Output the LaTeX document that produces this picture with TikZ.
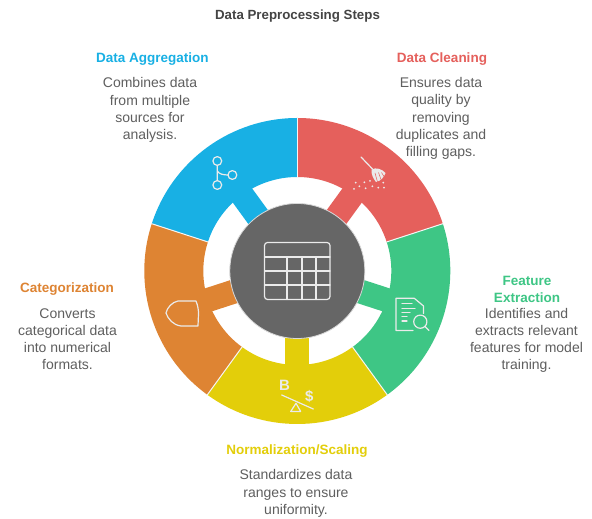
\documentclass[tikz,border=0pt]{standalone}
\usepackage{fontspec}
\setmainfont{Liberation Sans}
\definecolor{cblue}{HTML}{18B0E4}
\definecolor{cred}{HTML}{E5605C}
\definecolor{cgreen}{HTML}{3EC685}
\definecolor{cyellow}{HTML}{E3CE0A}
\definecolor{corange}{HTML}{DE8433}
\definecolor{cdark}{HTML}{666666}
\definecolor{ctext}{HTML}{5F5F5F}
\definecolor{ctitle}{HTML}{444444}
\newcommand{\sect}[2]{%
  \fill[#1] (#2:153) arc[start angle=#2,end angle=#2-72,radius=153]
    -- (#2-72:94) arc[start angle=#2-72,end angle=#2,radius=94] -- cycle;
  \fill[#1,rotate=#2-36] (60,-12) rectangle (96,12);
}
\tikzset{
  body/.style={font=\fontsize{14}{17.2}\selectfont,text=ctext,align=center,inner sep=0pt,anchor=center},
  head/.style={font=\fontsize{13.5}{17}\selectfont\bfseries,align=center,inner sep=0pt,anchor=center},
  icon/.style={draw=white!92!black,line width=1.2pt,line cap=round,line join=round},
  sep/.style={draw=white!96!black,line width=1pt}
}
\begin{document}
\begin{tikzpicture}[x=1pt,y=1pt]
\useasboundingbox (0,0) rectangle (592,519);
\fill[white] (0,0) rectangle (592,519);
\begin{scope}[shift={(297.3,248)}]
  \sect{cblue}{162}
  \sect{cred}{90}
  \sect{cgreen}{18}
  \sect{cyellow}{-54}
  \sect{corange}{-126}
  \foreach \a in {90,18,-54,-126,162} \draw[sep] (\a:94) -- (\a:153.5);
  \node[circle,fill=cdark,draw=white!85!black,line width=.8pt,minimum size=135pt,inner sep=0pt] (hub) at (0,0) {};
\end{scope}
\begin{scope}[x=1pt,y=-1pt,yshift=519pt]
  % table
  \draw[icon,rounded corners=3pt] (264.5,242.5) rectangle (330,299.5);
  \draw[icon] (264.5,257) -- (330,257) (264.5,271) -- (330,271) (264.5,285) -- (330,285);
  \draw[icon] (287,257) -- (287,299.5) (302,257) -- (302,299.5) (316,257) -- (316,299.5);
  % branch
  \draw[icon] (217.3,161) circle (4.4) (217.3,185) circle (4.4) (232.4,175) circle (4.4);
  \draw[icon] (217.3,165.4) -- (217.3,180.6) (217.3,171) .. controls (219,174) and (223,175) .. (228,175);
  % broom
  \draw[icon] (361,157) -- (372.5,169);
  \fill[white!92!black] (371.5,169.5) .. controls (376,167) and (382,169) .. (385.5,173) .. controls (384,177) and (381,181) .. (376,182) .. controls (373,178) and (371,174) .. (371.5,169.5) -- cycle;
  \draw[draw=cred,line width=.5pt] (375,173) -- (377.5,182) (378.5,172.5) -- (381,179.5) (381.5,172.5) -- (384,176.5);
  \foreach \x/\y in {355.7/182.7,364.3/182.3,370/181,383.3/182.7,354/189,359.3/186.3,365.7/188.3,372.3/186.3,378.3/187.7,384/187.7}
    \fill[white!92!black] (\x,\y) circle (1);
  % document search
  \draw[icon] (413,330.5) -- (396,330.5) -- (396,298.3) -- (414.3,298.3) -- (423.5,306) -- (423.5,313.5);
  \draw[icon] (402,303.3) -- (412,303.3) (402,308.3) -- (415,308.3) (402,312.7) -- (410,312.7) (402,316.7) -- (407,316.7) (402,321) -- (407,321);
  \draw[icon] (420.3,321.7) circle (6.6) (425,326.5) -- (429,330.5);
  % scale
  \draw[icon] (281.7,395) -- (313.3,409);
  \draw[icon] (290.7,411.5) -- (296,403.3) -- (300.7,411.5) -- cycle;
  \node[font=\fontsize{15}{15}\selectfont\bfseries,text=white!92!black,inner sep=0pt] (bsym) at (284.5,385.5) {B};
  \node[font=\fontsize{15}{15}\selectfont\bfseries,text=white!92!black,inner sep=0pt] (dsym) at (309.3,396.5) {\$};
  % shield
  \draw[icon] (178,301) -- (196,301) .. controls (198,306) and (198.5,310) .. (198.5,314) -- (198,326) -- (181,326) .. controls (173,325) and (168,319) .. (166,313) .. controls (167,308) and (172,302) .. (178,301) -- cycle;
  % text
  \node[font=\fontsize{13.3}{15}\selectfont\bfseries,text=ctitle,inner sep=0pt] (title) at (297.5,16) {Data Preprocessing Steps};
  \node[head,text=cblue] (h1) at (152.5,59) {Data Aggregation};
  \node[body] (b1) at (150,110) {Combines data\\from multiple\\sources for\\analysis.};
  \node[head,text=cred] (h2) at (442,59) {Data Cleaning};
  \node[body] (b2) at (441,118.5) {Ensures data\\quality by\\removing\\duplicates and\\filling gaps.};
  \node[head,text=cgreen] (h3) at (527,289) {Feature\\Extraction};
  \node[body] (b3) at (526.5,340.5) {Identifies and\\extracts relevant\\features for model\\training.};
  \node[head,text=cyellow] (h4) at (297,451) {Normalization/Scaling};
  \node[body] (b4) at (296,493.5) {Standardizes data\\ranges to ensure\\uniformity.};
  \node[head,text=corange] (h5) at (67,289) {Categorization};
  \node[body] (b5) at (67.5,339) {Converts\\categorical data\\into numerical\\formats.};
\end{scope}
\end{tikzpicture}
\end{document}
